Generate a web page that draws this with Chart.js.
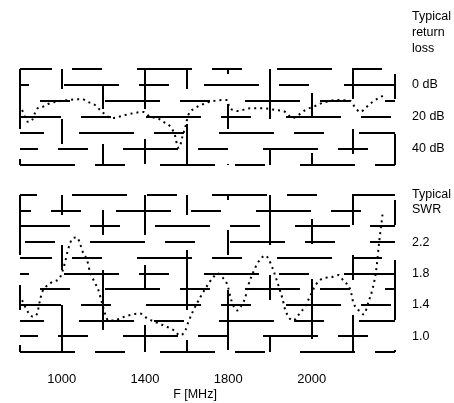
<!DOCTYPE html>
<html>
<head>
<meta charset="utf-8">
<script src="https://cdn.jsdelivr.net/npm/chart.js@4.4.1/dist/chart.umd.min.js"></script>
<style>
    body { margin: 0; background: #fff; }
    .panel { position: absolute; left: 0; }
    #lossPanel { top: 0; }
    #swrPanel { top: 175px; }
</style>
</head>
<body>
<div class="panel" id="lossPanel"><canvas id="lossChart" width="454" height="175"></canvas></div>
<div class="panel" id="swrPanel"><canvas id="swrChart" width="454" height="228"></canvas></div>
<script>
// frequency axis runs in grid steps, only four of them carry a label
const freqTicks = [1, 3, 5, 7];
const freqLabels = ["1000", "1400", "1800", "2000"];

// return loss curve (dB, 0 at top)
const lossSteps = [0.05, 0.12, 0.19, 0.29, 0.36, 0.43, 0.53, 0.67, 0.84, 1.15, 1.49, 1.63, 1.8, 1.92, 2.0, 2.12, 2.24, 2.36, 2.52,
    2.96, 3.13, 3.29, 3.44, 3.61, 3.68, 3.73, 3.77, 3.82, 3.89, 3.97, 4.04, 4.21, 4.4, 4.64, 4.86, 4.98, 5.02, 5.12, 5.22,
    5.53, 5.82, 6.13, 6.37, 6.49, 6.56, 6.68, 6.85, 7.02, 7.33, 7.62, 7.93, 8.0, 8.17, 8.29, 8.46, 8.65, 8.77];
const lossValues = [15.6, 20, 23, 21.9, 17.5, 14.4, 13.8, 11.9, 10.6, 9.4, 8.8, 10.6, 12.5, 15.6, 17.5, 20, 20.6, 20, 18.8,
    16.9, 20, 20.6, 23, 26, 29, 32.5, 37.5, 39.4, 33, 26, 18.8, 14.4, 11.9, 10, 9.4, 9.4, 13.8, 15.6, 16.3,
    14.5, 14.5, 15.6, 16.9, 20, 20.6, 18.8, 15.6, 13.8, 10.6, 9.4, 10, 12.5, 16.9, 14.4, 10.6, 7.5, 6.3];
const lossTicks = [0, 20, 40];
const lossLabels = ["0 dB", "20 dB", "40 dB"];

// SWR curve
const swrSteps = [0.05, 0.19, 0.31, 0.41, 0.48, 0.53, 0.6, 0.77, 0.96, 1.08, 1.15, 1.27, 1.37, 1.44, 1.51, 1.61, 1.68, 1.8, 1.88,
    1.97, 2.04, 2.12, 2.28, 2.4, 2.88, 3.05, 3.25, 3.49, 3.68, 3.85, 3.97, 4.04, 4.16, 4.33, 4.45, 4.62, 4.74, 4.86, 4.98,
    5.05, 5.12, 5.22, 5.29, 5.41, 5.48, 5.6, 5.7, 5.82, 5.89, 5.96, 6.06, 6.2, 6.3, 6.37, 6.56, 6.68, 6.85, 6.97, 7.09,
    7.28, 7.45, 7.64, 7.76, 7.93, 8.0, 8.13, 8.25, 8.37, 8.46, 8.55, 8.62, 8.7];
const swrValues = [1.46, 1.31, 1.25, 1.29, 1.46, 1.56, 1.62, 1.69, 1.75, 1.94, 2.1, 2.25, 2.26, 2.18, 2.07, 1.97, 1.82, 1.68, 1.59,
    1.42, 1.29, 1.2, 1.2, 1.23, 1.29, 1.23, 1.18, 1.13, 1.08, 1.01, 1.08, 1.18, 1.33, 1.5, 1.61, 1.74, 1.8, 1.75, 1.65,
    1.5, 1.39, 1.33, 1.37, 1.5, 1.65, 1.82, 1.93, 2.01, 2.03, 1.99, 1.87, 1.65, 1.48, 1.33, 1.2, 1.27, 1.39, 1.52, 1.65,
    1.74, 1.75, 1.78, 1.71, 1.59, 1.43, 1.33, 1.28, 1.45, 1.6, 1.85, 2.2, 2.55];
const swrTicks = [1.0, 1.4, 1.8, 2.2];
const swrLabels = ["1.0", "1.4", "1.8", "2.2"];

const FONT = "'Liberation Sans', Arial, sans-serif";
const INK = "#000";

// the printed grid is broken up, each line starts its dashes somewhere else
const rowDash = [55, 20, 30, 35];
const rowShift = [0, 37, 81, 14, 55, 96, 23, 70, 5, 44, 88];
const colDash = [60, 30, 25, 35];
const colShift = [0, 40, 75, 20, 95, 55, 10, 66, 30, 85];

function toPoints(xs, ys) {
    return xs.map((x, i) => ({ x: x, y: ys[i] }));
}

function pickLabel(ticks, labels, value) {
    const idx = ticks.findIndex(t => Math.abs(t - value) < 1e-6);
    return idx >= 0 ? labels[idx] : "";
}

// keep the plot box exactly where the layout padding puts it
function pinBox(size, key) {
    return s => {
        s[key] = size;
        s.paddingTop = s.paddingBottom = s.paddingLeft = s.paddingRight = 0;
    };
}

// loose text beside and below the plots
const sideText = {
    id: "sideText",
    afterDraw(chart, args, opts) {
        const ctx = chart.ctx;
        ctx.save();
        ctx.fillStyle = INK;
        ctx.font = opts.size + "px " + FONT;
        ctx.textBaseline = "middle";
        (opts.lines || []).forEach(l => {
            ctx.textAlign = l.align || "left";
            ctx.fillText(l.text, l.x, l.y);
        });
        ctx.restore();
    }
};

function curveDataset(points) {
    return {
        data: points,
        borderColor: INK,
        borderWidth: 2,
        borderDash: [2, 4],
        pointRadius: 0,
        cubicInterpolationMode: "monotone",
        fill: false
    };
}

function freqAxis(showLabels, height) {
    return {
        type: "linear",
        min: 0,
        max: 9,
        ticks: {
            display: showLabels,
            autoSkip: false,
            maxRotation: 0,
            stepSize: 1,
            padding: 20,
            color: INK,
            font: { family: FONT, size: 13 },
            callback: v => pickLabel(freqTicks, freqLabels, v)
        },
        grid: { color: INK, lineWidth: 2, drawTicks: false },
        border: {
            display: false,
            dash: colDash,
            dashOffset: c => colShift[c.index % colShift.length]
        },
        afterFit: pinBox(height, "height")
    };
}

function valueAxis(min, max, step, ticks, labels, reverse) {
    return {
        position: "right",
        reverse: reverse,
        min: min,
        max: max,
        ticks: {
            autoSkip: false,
            stepSize: step,
            padding: 17,
            color: INK,
            font: { family: FONT, size: 12.5 },
            callback: v => pickLabel(ticks, labels, v)
        },
        grid: { color: INK, lineWidth: 2, drawTicks: false },
        border: {
            display: false,
            dash: rowDash,
            dashOffset: c => rowShift[c.index % rowShift.length]
        },
        afterFit: pinBox(59, "width")
    };
}

new Chart(document.getElementById("lossChart"), {
    type: "line",
    data: { datasets: [curveDataset(toPoints(lossSteps, lossValues))] },
    plugins: [sideText],
    options: {
        responsive: false,
        animation: false,
        layout: { padding: { left: 20, top: 69, right: 0, bottom: 0 } },
        scales: {
            x: freqAxis(false, 10),
            y: valueAxis(-10, 50, 10, lossTicks, lossLabels, true)
        },
        plugins: {
            legend: { display: false },
            tooltip: { enabled: false },
            sideText: {
                size: 12.5,
                lines: [
                    { text: "Typical", x: 412, y: 17 },
                    { text: "return", x: 412, y: 33 },
                    { text: "loss", x: 412, y: 49 }
                ]
            }
        }
    }
});

new Chart(document.getElementById("swrChart"), {
    type: "line",
    data: { datasets: [curveDataset(toPoints(swrSteps, swrValues))] },
    plugins: [sideText],
    options: {
        responsive: false,
        animation: false,
        layout: { padding: { left: 20, top: 20, right: 0, bottom: 0 } },
        scales: {
            x: freqAxis(true, 51),
            y: valueAxis(0.8, 2.8, 0.2, swrTicks, swrLabels, false)
        },
        plugins: {
            legend: { display: false },
            tooltip: { enabled: false },
            sideText: {
                size: 12.5,
                lines: [
                    { text: "Typical", x: 412, y: 20 },
                    { text: "SWR", x: 412, y: 35 },
                    { text: "F [MHz]", x: 195, y: 220, align: "center" }
                ]
            }
        }
    }
});
</script>
</body>
</html>
